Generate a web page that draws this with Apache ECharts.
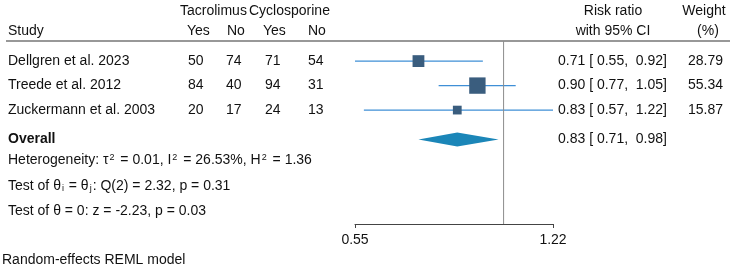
<!DOCTYPE html>
<html>
<head>
<meta charset="utf-8">
<script src="https://cdn.jsdelivr.net/npm/echarts@6/dist/echarts.min.js"></script>
<style>
  html, body { margin: 0; padding: 0; background: #fff; }
  #main { width: 735px; height: 277px; }
</style>
</head>
<body>
<div id="main"></div>
<script>
// study data
const studies = ['Dellgren et al. 2023', 'Treede et al. 2012', 'Zuckermann et al. 2003'];
const tacYes = [50, 84, 20];
const tacNo = [74, 40, 17];
const cycYes = [71, 94, 24];
const cycNo = [54, 31, 13];
const rr = [0.71, 0.90, 0.83];
const rrLow = [0.55, 0.77, 0.57];
const rrHigh = [0.92, 1.05, 1.22];
const weight = [28.79, 55.34, 15.87];
// overall: estimate, low, high
const overall = [0.83, 0.71, 0.98];
const xTicks = [0.55, 1.22];
const statLines = [
  '{a|Heterogeneity: τ}{sup|2}{a| = 0.01, I}{sup|2}{a| = 26.53%, H}{sup|2}{a| = 1.36}',
  '{a|Test of θ}{sub|i}{a| = θ}{sub|j}{a|: Q(2) = 2.32, p = 0.31}',
  '{a|Test of θ = 0: z = -2.23, p = 0.03}'
];
const footNote = 'Random-effects REML model';

const FONT = '"Liberation Sans", Arial, sans-serif';
const TXT = '#111';
const OVERALL_ROW = 3.2;

const chart = echarts.init(document.getElementById('main'));

const fmt = v => v.toFixed(2);
const ciText = (e, l, h) => fmt(e) + ' [ ' + fmt(l) + ',  ' + fmt(h) + ']';

const studyData = studies.map((s, i) => [rr[i], rrLow[i], rrHigh[i], i, weight[i]]);

chart.setOption({
  animation: false,
  grid: { left: 355, right: 182, top: 41, bottom: 53, containLabel: false, outerBoundsMode: 'none' },
  xAxis: {
    type: 'log',
    logBase: 10,
    min: 0.55,
    max: 1.22,
    splitLine: { show: false },
    axisLine: { show: true, onZero: false, lineStyle: { color: '#444', width: 1 } },
    axisTick: { show: true, length: 4, customValues: xTicks, lineStyle: { color: '#444' } },
    axisLabel: {
      customValues: xTicks,
      formatter: v => fmt(v),
      fontSize: 14, fontFamily: FONT, color: TXT, margin: 9
    }
  },
  yAxis: { type: 'value', inverse: true, min: -0.82, max: 6.65, show: false },
  series: [
    {
      // reference line at 1
      type: 'line',
      data: [[1, -0.82], [1, 6.65]],
      symbol: 'none',
      lineStyle: { color: '#8c8c8c', width: 1 },
      silent: true
    },
    {
      type: 'custom',
      data: studyData,
      encode: { x: [0, 1, 2], y: 3 },
      renderItem: (params, api) => {
        const y = api.value(3);
        const p = api.coord([api.value(0), y]);
        const a = api.coord([api.value(1), y]);
        const b = api.coord([api.value(2), y]);
        const side = 2.2 * Math.sqrt(api.value(4));
        return {
          type: 'group',
          children: [
            { type: 'line', shape: { x1: a[0], y1: a[1], x2: b[0], y2: b[1] },
              style: { stroke: '#3f8fd6', lineWidth: 1.2 } },
            { type: 'rect', shape: { x: p[0] - side / 2, y: p[1] - side / 2, width: side, height: side },
              style: { fill: '#3a5d7e' } }
          ]
        };
      }
    },
    {
      type: 'custom',
      data: [[overall[0], overall[1], overall[2], OVERALL_ROW]],
      encode: { x: [0, 1, 2], y: 3 },
      renderItem: (params, api) => {
        const y = api.value(3);
        const c = api.coord([api.value(0), y]);
        const l = api.coord([api.value(1), y]);
        const r = api.coord([api.value(2), y]);
        const h = 7;
        return {
          type: 'polygon',
          shape: { points: [[l[0], c[1]], [c[0], c[1] - h], [r[0], c[1]], [c[0], c[1] + h]] },
          style: { fill: '#1b86b8' }
        };
      }
    }
  ]
});

const rowY = i => chart.convertToPixel({ gridIndex: 0 }, [1, i])[1];

function txt(x, y, text, opts) {
  opts = opts || {};
  return {
    type: 'text', x: x, y: y, silent: true,
    style: Object.assign({
      text: text, fill: TXT, fontSize: 14, fontFamily: FONT,
      align: 'left', verticalAlign: 'middle'
    }, opts)
  };
}

const cols = [188, 226, 265, 308];
const els = [];

// headers
els.push(txt(180, 11, 'Tacrolimus'));
els.push(txt(249, 11, 'Cyclosporine'));
els.push(txt(8, 31, 'Study'));
els.push(txt(cols[0] - 1, 31, 'Yes'));
els.push(txt(cols[1] + 1, 31, 'No'));
els.push(txt(cols[2] - 2, 31, 'Yes'));
els.push(txt(cols[3], 31, 'No'));
els.push(txt(613, 11, 'Risk ratio', { align: 'center' }));
els.push(txt(613, 31, 'with 95% CI', { align: 'center' }));
els.push(txt(704, 11, 'Weight', { align: 'center' }));
els.push(txt(708, 31, '(%)', { align: 'center' }));
els.push({ type: 'line', silent: true, shape: { x1: 6, y1: 41, x2: 730, y2: 41 },
  style: { stroke: '#333', lineWidth: 1.2 } });

// study rows
studies.forEach((s, i) => {
  const y = rowY(i);
  els.push(txt(8, y, s));
  [tacYes[i], tacNo[i], cycYes[i], cycNo[i]].forEach((v, k) => els.push(txt(cols[k], y, String(v))));
  els.push(txt(558, y, ciText(rr[i], rrLow[i], rrHigh[i])));
  els.push(txt(723, y, fmt(weight[i]), { align: 'right' }));
});

// overall row
const oy = rowY(OVERALL_ROW);
els.push(txt(8, oy, 'Overall', { fontWeight: 'bold' }));
els.push(txt(558, oy, ciText(overall[0], overall[1], overall[2])));

// stats
const rich = {
  a: { fontSize: 14, fontFamily: FONT, fill: TXT },
  sup: { fontSize: 9, fontFamily: FONT, fill: TXT, verticalAlign: 'top', padding: [0, 2, 5, 1] },
  sub: { fontSize: 9, fontFamily: FONT, fill: TXT, verticalAlign: 'bottom', padding: [0, 1, 0, 1] }
};
[160, 186, 211].forEach((y, k) => {
  els.push(txt(8, y, statLines[k], { rich: rich }));
});
els.push(txt(2, 260, footNote));

chart.setOption({ graphic: els });
</script>
</body>
</html>
